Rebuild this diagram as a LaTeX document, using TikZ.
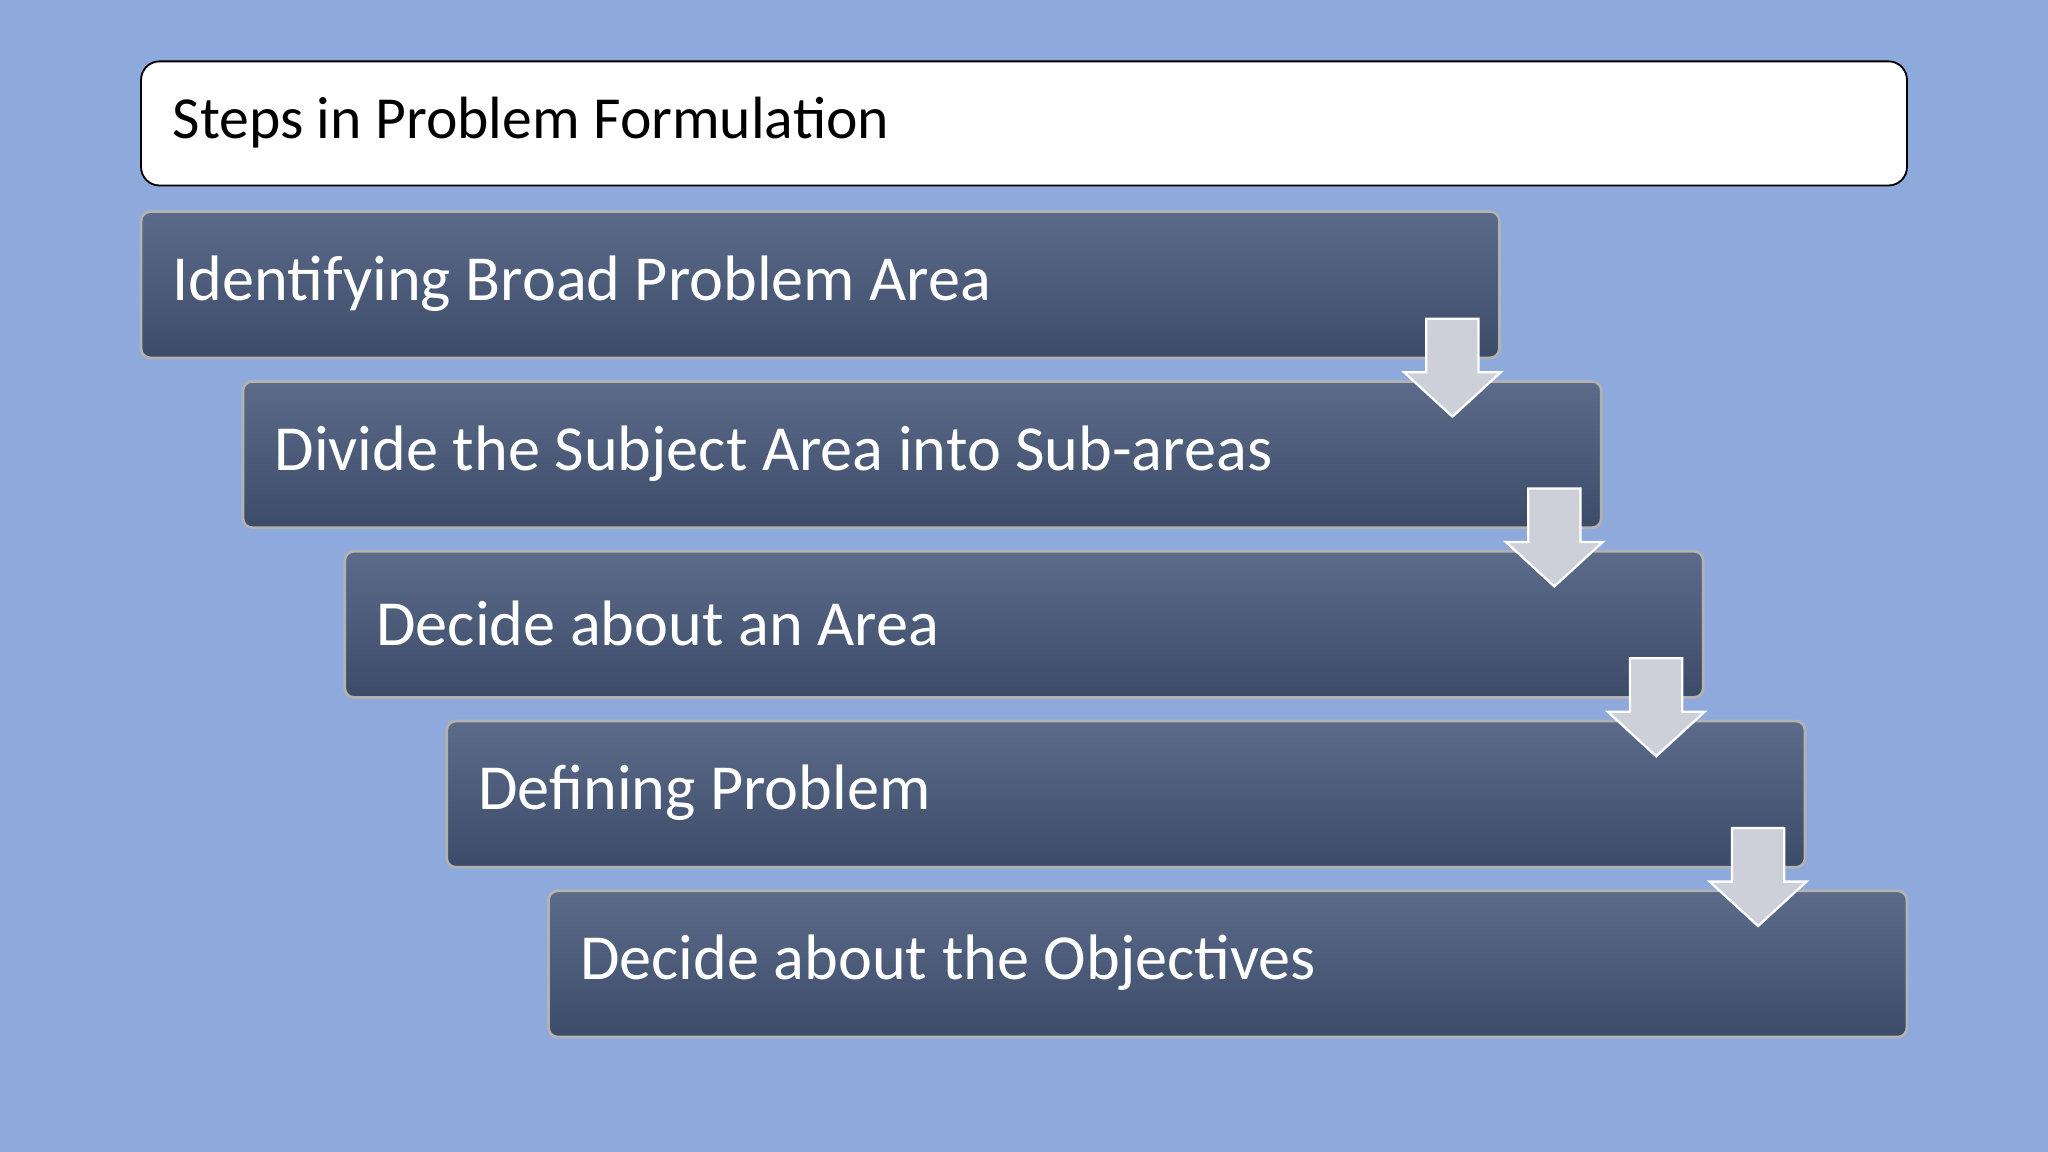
\documentclass[tikz,border=0pt]{standalone}
\usepackage{fontspec}
\setmainfont{Carlito}
\begin{document}
\begin{tikzpicture}[x=0.02cm,y=-0.02cm,
  stepbox/.style={rounded corners=4pt,draw=gray!60!white,line width=1.2pt,top color=slatetop,bottom color=slatebot},
  steptext/.style={anchor=west,text=white,font=\fontsize{28}{30}\selectfont},
  downarrow/.style={fill=arrowgray,draw=white,line width=1pt}]
\definecolor{bgblue}{HTML}{8EA9DB}
\definecolor{slatetop}{HTML}{5B6B89}
\definecolor{slatebot}{HTML}{3C4B68}
\definecolor{arrowgray}{HTML}{CDD0D8}
\fill[bgblue] (0,0) rectangle (1568,882);
\useasboundingbox (0,0) rectangle (1568,882);
\draw[fill=white,draw=black,line width=0.8pt,rounded corners=8pt] (108,47) rectangle (1460,142);
\node[anchor=west,font=\fontsize{26}{28}\selectfont] (title) at (126,94) {Steps in Problem Formulation};
\foreach \i/\t in {0/Identifying Broad Problem Area,1/Divide the Subject Area into Sub-areas,2/Decide about an Area,3/Defining Problem,4/Decide about the Objectives}{
  \pgfmathsetmacro{\xl}{108+78*\i}
  \pgfmathsetmacro{\yt}{162+130*\i}
  \draw[stepbox] (\xl,\yt) rectangle ({\xl+1040},{\yt+112});
  \node[steptext] (s\i) at ({\xl+18},{\yt+55}) {\t};
}
\foreach \i in {0,1,2,3}{
  \pgfmathsetmacro{\cx}{1112+78*\i}
  \pgfmathsetmacro{\yt}{244+130*\i}
  \draw[downarrow] ({\cx-20},\yt) -- ({\cx+20},\yt) -- ({\cx+20},{\yt+41}) -- ({\cx+37},{\yt+41}) -- (\cx,{\yt+75}) -- ({\cx-37},{\yt+41}) -- ({\cx-20},{\yt+41}) -- cycle;
}
\end{tikzpicture}
\end{document}
